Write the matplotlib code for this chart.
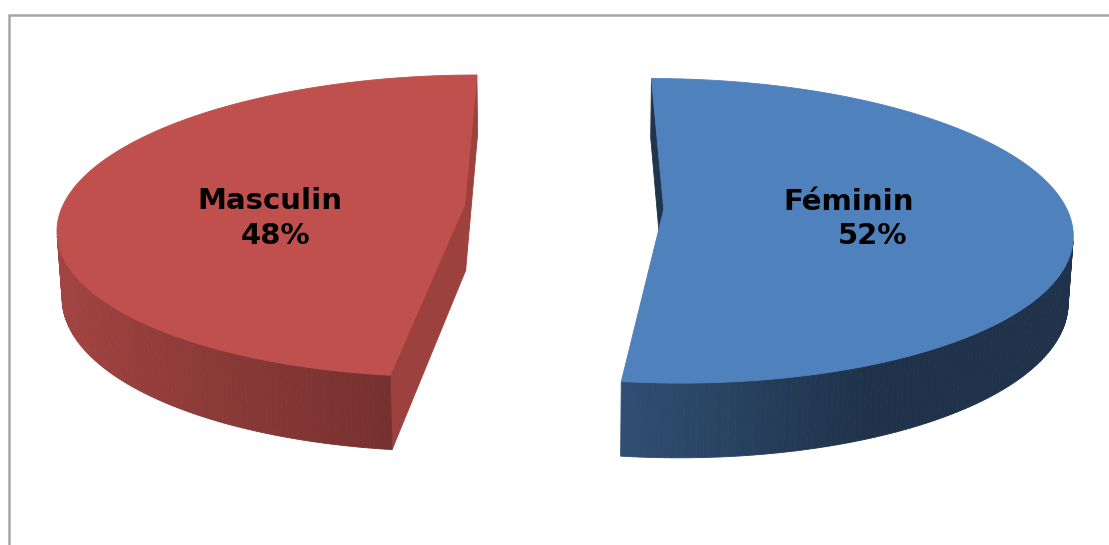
# ================= Modules ================= #
import numpy as np
import matplotlib.pyplot as plt
from matplotlib.patches import Polygon
from matplotlib.colors import to_rgb

# ================= Data ================= #
categories = ['Féminin', 'Masculin']
values = [52, 48]
colors = ['#4F81BD', '#C0504D']

# ================= Parameters ================= #
W, H = 1109, 545
start_angle = 90.0          # first slice at 12 o'clock, going clockwise
explode = 0.248             # explosion, in pie radii
thickness = 0.178
elev = np.arcsin(0.3694)
cam_dist = 6.6
focal = 2655
X0, Y0 = 564, 207
n_arc = 240
cut_shade = [0.40, 0.81]
# label anchors (name line, percent line) in pixels
label_pos = [((849, 210), (873, 244)), ((270, 209), (276, 244))]

cs, sn = np.cos(elev), np.sin(elev)
cam = np.array([0.0, -cam_dist * cs, cam_dist * sn])
fwd = np.array([0.0, cs, -sn])
up = np.array([0.0, sn, cs])


# ================= Local functions ================= #
def project(pts):
    v = np.atleast_2d(pts) - cam
    d = v @ fwd
    sx = X0 + focal * v[:, 0] / d
    sy = Y0 - focal * (v @ up) / d
    return np.column_stack([sx, sy]), d


def shade(col, k):
    return tuple(np.clip(np.array(to_rgb(col)) * k, 0, 1))


def wall_factor(c):
    # lighter on the left, darker towards the right/front
    return np.interp(c, [-1.0, -0.125, 0.4, 1.0], [0.86, 0.61, 0.39, 0.39])


# ================= Figure ================= #
fig = plt.figure(figsize=(W / 100, H / 100), dpi=100)
ax = fig.add_axes([0, 0, 1, 1])
ax.set_xlim(0, W)
ax.set_ylim(H, 0)
ax.axis('off')

# chart frame (only top and left edges are inside the picture)
ax.plot([8.5, 8.5, W + 5], [H + 5, 14.5, 14.5], color='#A6A6A6', lw=1.8,
        solid_joinstyle='miter', zorder=1)

total = float(sum(values))
a0 = start_angle
for i, (cat, val, col) in enumerate(zip(categories, values, colors)):
    span = val / total * 360.0
    a_hi, a_lo = a0, a0 - span
    a0 = a_lo
    mid = np.radians((a_hi + a_lo) / 2)
    off = explode * np.array([np.cos(mid), np.sin(mid), 0.0])
    th = np.radians(np.linspace(a_lo, a_hi, n_arc))
    rim = np.column_stack([np.cos(th), np.sin(th), np.zeros_like(th)]) + off
    rim_b = rim - np.array([0, 0, thickness])

    faces = []
    # outer wall
    for k in range(n_arc - 1):
        tm = (th[k] + th[k + 1]) / 2
        nrm = np.array([np.cos(tm), np.sin(tm), 0.0])
        quad = np.array([rim[k], rim[k + 1], rim_b[k + 1], rim_b[k]])
        if nrm @ (cam - quad.mean(axis=0)) <= 0:
            continue
        faces.append((quad, shade(col, wall_factor(np.cos(tm)))))
    # radial cut faces
    ctop = off
    cbot = off - np.array([0, 0, thickness])
    for ang, sgn in ((np.radians(a_hi), 1), (np.radians(a_lo), -1)):
        r = np.array([np.cos(ang), np.sin(ang), 0.0])
        nrm = np.array([np.cos(ang + sgn * np.pi / 2), np.sin(ang + sgn * np.pi / 2), 0.0])
        quad = np.array([ctop, ctop + r, cbot + r, cbot])
        if nrm @ (cam - quad.mean(axis=0)) <= 0:
            continue
        faces.append((quad, shade(col, cut_shade[i])))

    # far faces first
    faces.sort(key=lambda f: -project(f[0].mean(axis=0))[1][0])
    for quad, fc in faces:
        xy, _ = project(quad)
        ax.add_patch(Polygon(xy, closed=True, facecolor=fc, edgecolor=fc,
                             lw=0.6, zorder=2))
    # top face
    top = np.vstack([ctop, rim])
    xy, _ = project(top)
    ax.add_patch(Polygon(xy, closed=True, facecolor=col, edgecolor=col,
                         lw=0.6, zorder=3))

    # labels
    (nx, ny), (px, py) = label_pos[i]
    ax.text(nx, ny, cat, ha='center', va='baseline', fontsize=21,
            fontweight='bold', family='DejaVu Sans', color='black', zorder=4)
    ax.text(px, py, '%d%%' % round(val / total * 100), ha='center',
            va='baseline', fontsize=21, fontweight='bold',
            family='DejaVu Sans', color='black', zorder=4)

fig.savefig('out.png', dpi=100)
